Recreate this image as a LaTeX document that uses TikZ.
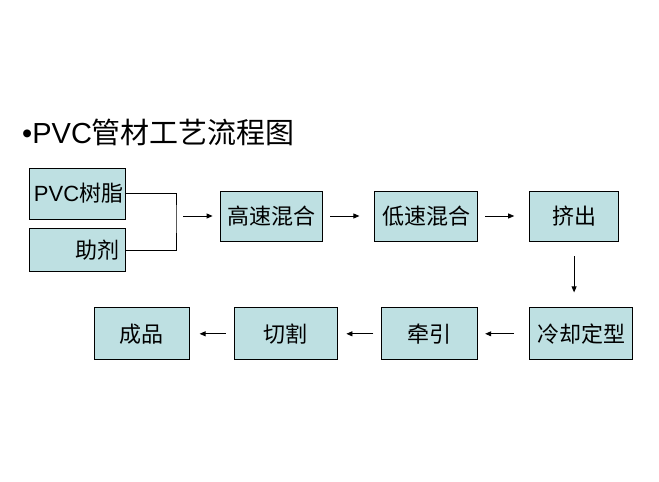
\documentclass[tikz,border=0pt]{standalone}
\usepackage{fontspec}
\setmainfont{Liberation Sans}
\newfontfamily\cjk{Noto Sans CJK SC}
\usepackage{tikz}
\usepackage{xcolor}
\usetikzlibrary{arrows.meta, positioning}
\definecolor{boxfill}{RGB}{190,224,226}

\begin{document}
\begin{tikzpicture}[
    x=1pt, y=-1pt,
    block/.style={rectangle, draw, line width=0.8pt, fill=boxfill, minimum height=50pt, inner sep=0pt, font=\fontsize{22}{24}\selectfont\cjk},
    inbox/.style={block, text width=86pt, inner xsep=5pt, align=right},
    arrow/.style={line width=0.8pt,-{Triangle[length=6pt,width=5pt]}}
]
\useasboundingbox (0,0) rectangle (659,482);
\node[anchor=base west, inner sep=0pt, font=\fontsize{29}{32}\selectfont] (title) at (22,143) {•PVC{\cjk 管材工艺流程图}};

% raw materials
\node[inbox, minimum height=51pt] (resin) at (77,193.5) {{\rmfamily PVC}树脂};
\node[inbox, minimum height=43pt, below=9pt of resin] (additive) {助剂};
\coordinate (join) at (176,216);

% first row
\node[block, minimum width=102pt] (highmix) at (271,216) {高速混合};
\node[block, minimum width=103pt, right=52pt of highmix] (lowmix) {低速混合};
\node[block, minimum width=89pt, right=51pt of lowmix] (extrude) {挤出};

% second row
\node[block, minimum width=103pt, minimum height=52pt, below=66pt of extrude.south west, anchor=north west] (cool) {冷却定型};
\node[block, minimum width=96pt, minimum height=52pt, left=51pt of cool] (haul) {牵引};
\node[block, minimum width=103pt, minimum height=52pt, left=44pt of haul] (cut) {切割};
\node[block, minimum width=95pt, minimum height=52pt, left=44pt of cut] (product) {成品};

\draw[line width=0.8pt] (resin.east) -| (join) |- (additive.east);
\draw[arrow, shorten <=7pt, shorten >=7pt] (join) -- (highmix);
\draw[arrow, shorten <=8pt, shorten >=15pt] (highmix) -- (lowmix);
\draw[arrow, shorten <=7pt, shorten >=15pt] (lowmix) -- (extrude);
\draw[arrow, shorten <=15pt, shorten >=15pt] (extrude.south) -- (extrude.south |- cool.north);
\draw[arrow, shorten <=15pt, shorten >=7pt] (cool) -- (haul);
\draw[arrow, shorten <=8pt, shorten >=9pt] (haul) -- (cut);
\draw[arrow, shorten <=8pt, shorten >=10pt] (cut) -- (product);
\end{tikzpicture}
\end{document}
